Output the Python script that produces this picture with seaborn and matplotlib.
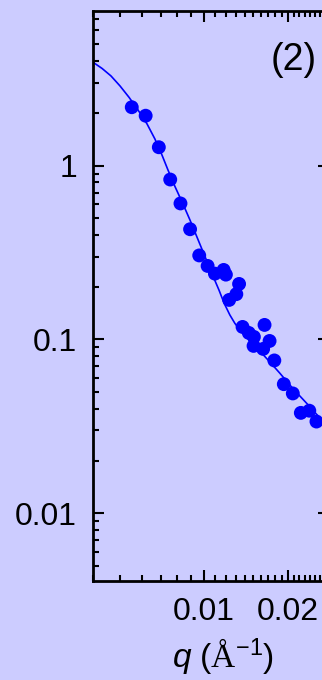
import numpy as np
import pandas as pd
import matplotlib.pyplot as plt
import matplotlib.ticker as mticker
import seaborn as sns

sns.set_style('ticks')
plt.rcParams['font.family'] = ['Liberation Sans', 'DejaVu Sans']
plt.rcParams['mathtext.fontset'] = 'custom'
plt.rcParams['mathtext.it'] = 'Liberation Sans:italic'
plt.rcParams['mathtext.rm'] = 'Liberation Serif'
plt.rcParams['mathtext.sf'] = 'Liberation Sans'

BG = '#ccccff'
BLUE = '#0000ff'

# measured points, q in 1/A
q_data = [0.00551, 0.00618, 0.00689, 0.00757, 0.00824, 0.00892, 0.00962,
          0.01031, 0.01095, 0.01177, 0.01199, 0.01337, 0.01307, 0.01232,
          0.01376, 0.01449, 0.01511, 0.01507, 0.01650, 0.01720, 0.01631,
          0.01789, 0.01935, 0.02084, 0.02227, 0.02388, 0.02534]
i_data = [2.168, 1.937, 1.276, 0.832, 0.606, 0.4306, 0.3043,
          0.2648, 0.2391, 0.2511, 0.2360, 0.2086, 0.1822, 0.1688,
          0.1180, 0.1090, 0.1034, 0.0918, 0.1212, 0.0980, 0.0882,
          0.0757, 0.0553, 0.0489, 0.0378, 0.0389, 0.0337]

# fitted curve
q_fit = [0.00400, 0.00431, 0.00464, 0.00500, 0.00539, 0.00580, 0.00625,
         0.00667, 0.00707, 0.00743, 0.00787, 0.00841, 0.00891, 0.00960,
         0.01017, 0.01080, 0.01132, 0.01182, 0.01239, 0.01292, 0.01357,
         0.01426, 0.01555, 0.01724, 0.01873, 0.02085, 0.02334, 0.02806]
i_fit = [3.935, 3.625, 3.282, 2.874, 2.469, 2.092, 1.738,
         1.424, 1.152, 0.9446, 0.7591, 0.6020, 0.4870, 0.3639,
         0.2905, 0.2298, 0.1927, 0.1615, 0.1383, 0.1236, 0.1119,
         0.1027, 0.0888, 0.0742, 0.0639, 0.0522, 0.0430, 0.0310]

y_ticks = [0.01, 0.1, 1]
y_labels = ['0.01', '0.1', '1']
x_ticks = [0.01, 0.02]
x_labels = ['0.01', '0.02']

pts = pd.DataFrame({'q': q_data, 'I': i_data})
fit = pd.DataFrame({'q': q_fit, 'I': i_fit})

fig = plt.figure(figsize=(3.22, 6.8), dpi=100, facecolor=BG)
ax = fig.add_axes([0.2888, 0.1449, 0.7329, 0.8394])
ax.set_facecolor(BG)

sns.lineplot(data=fit, x='q', y='I', sort=False, estimator=None,
             color=BLUE, lw=1.2, ax=ax)
sns.scatterplot(data=pts, x='q', y='I', s=100, color=BLUE,
                edgecolor='none', ax=ax, zorder=3)

ax.set_xscale('log')
ax.set_yscale('log')
ax.set_xlim(0.004, 0.0281)
ax.set_ylim(0.00405, 7.79)

ax.xaxis.set_major_locator(mticker.FixedLocator(x_ticks))
ax.xaxis.set_major_formatter(mticker.FixedFormatter(x_labels))
ax.xaxis.set_minor_locator(mticker.MultipleLocator(0.001))
ax.xaxis.set_minor_formatter(mticker.NullFormatter())
ax.yaxis.set_major_locator(mticker.FixedLocator(y_ticks))
ax.yaxis.set_major_formatter(mticker.FixedFormatter(y_labels))
ax.yaxis.set_minor_locator(mticker.LogLocator(base=10, subs=np.arange(2, 10)))
ax.yaxis.set_minor_formatter(mticker.NullFormatter())

ax.tick_params(which='both', direction='in', top=True, right=True,
               width=1.5, color='black', labelcolor='black')
ax.tick_params(which='major', length=8, labelsize=23, pad=11.5)
ax.tick_params(which='minor', length=4.3)
for s in ax.spines.values():
    s.set_linewidth(2)
    s.set_color('black')

ax.set_ylabel('')
ax.set_xlabel(r'$q$ ($\mathrm{\AA}^{\mathsf{-1}}$)', fontsize=24, color='black')
ax.xaxis.set_label_coords(0.551, -0.097)

ax.text(0.949, 0.896, '(2)', transform=ax.transAxes, ha='right',
        va='baseline', fontsize=27, color='black')

fig.savefig('out.png', dpi=100, facecolor=BG)
